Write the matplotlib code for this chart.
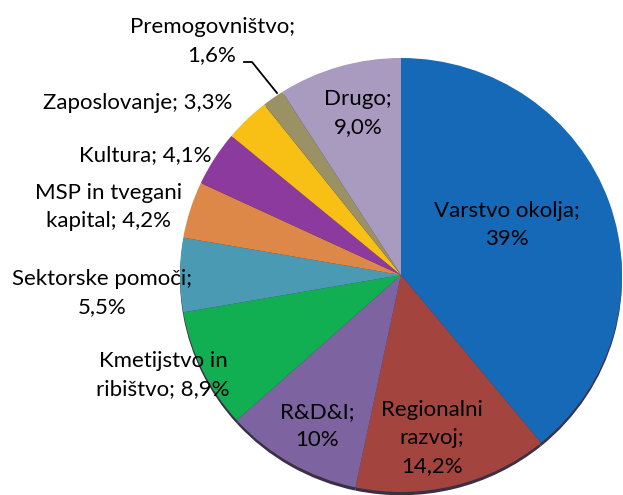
import matplotlib
matplotlib.use("Agg")
import matplotlib.pyplot as plt

categories = ["Varstvo okolja", "Regionalni razvoj", "R&D&I", "Kmetijstvo in ribištvo",
              "Sektorske pomoči", "MSP in tvegani kapital", "Kultura", "Zaposlovanje",
              "Premogovništvo", "Drugo"]
values = [39.0, 14.2, 10.0, 8.9, 5.5, 4.2, 4.1, 3.3, 1.6, 9.0]
label_texts = ["Varstvo okolja;\n39%", "Regionalni\nrazvoj;\n14,2%", "R&D&I;\n10%",
               "Kmetijstvo in\nribištvo; 8,9%", "Sektorske pomoči;\n5,5%",
               "MSP in tvegani\nkapital; 4,2%", "Kultura; 4,1%", "Zaposlovanje; 3,3%",
               "Premogovništvo;\n1,6%", "Drugo;\n9,0%"]

colors = ["#1669B7", "#A3443F", "#7D63A0", "#12AE52", "#4B9AB3",
          "#DD8849", "#8C3A9D", "#F8BF14", "#9A9164", "#A99AC0"]

# label centres in pixels (x, y from top)
label_px = [(507, 225), (432, 438), (317, 426), (163, 375), (102, 293),
            (109, 207), (145, 155), (138, 103), (212, 41), (358, 113)]

W, H = 623, 495
fig = plt.figure(figsize=(W / 100, H / 100), dpi=100)
cx, cy, rx, ry = 401, 275, 221, 217
ax = fig.add_axes([(cx - rx) / W, 1 - (cy + ry) / H, 2 * rx / W, 2 * ry / H])
ax.axis("off")

# subtle shadow rim
ax.pie(values, startangle=90, counterclock=False, radius=1.0,
       colors=["#3a2f45"] * len(values), center=(0.0, -0.015),
       wedgeprops=dict(linewidth=0))
ax.pie(values, startangle=90, counterclock=False, radius=1.0, colors=colors,
       wedgeprops=dict(linewidth=0))
ax.set_xlim(-1, 1)
ax.set_ylim(-1, 1)
ax.set_aspect("auto")

font = dict(family=["Lato", "DejaVu Sans"], fontsize=16, color="#000000")
for txt, (px, py) in zip(label_texts, label_px):
    x = (px - cx) / rx
    y = (cy - py) / ry
    ax.text(x, y, txt, ha="center", va="center", linespacing=1.5,
            clip_on=False, **font)

# leader line for Premogovništvo
pts = [(244, 62), (252, 62), (277, 93)]
ax.plot([(p[0] - cx) / rx for p in pts], [(cy - p[1]) / ry for p in pts],
        color="black", lw=1.3, clip_on=False)

fig.savefig("out.png", dpi=100)
